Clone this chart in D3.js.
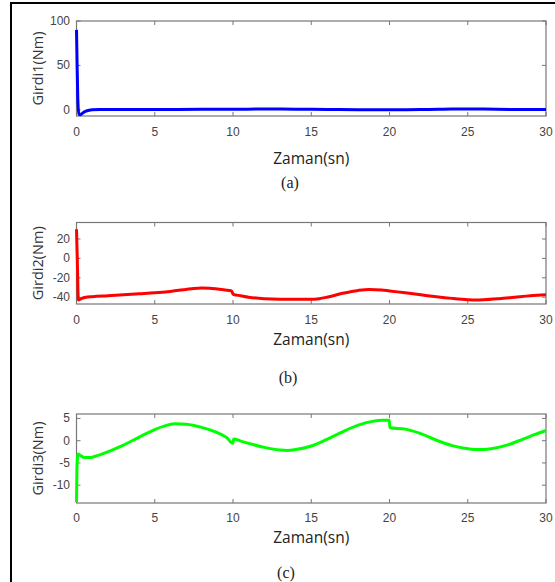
<!DOCTYPE html>
<html><head><meta charset="utf-8">
<script src="https://cdn.jsdelivr.net/npm/d3@7"></script>
<style>body{margin:0;background:#fff}svg{display:block}</style>
</head><body>
<script>
// ---- data ----
const xTicks = [0, 5, 10, 15, 20, 25, 30];
const captions = ["(a)", "(b)", "(c)"];
const yLabels = ["Girdi1(Nm)", "Girdi2(Nm)", "Girdi3(Nm)"];
const xLabel = "Zaman(sn)";

const t1 = [0, 0.03, 0.08, 0.15, 0.25, 0.4, 0.6, 0.8, 1.0, 1.5, 3, 5, 8, 10, 12, 14, 16, 18, 20, 22, 24, 25, 26, 28, 30];
const y1 = [90, 60, 15, -5, -5.5, -3.5, -1.5, -0.5, 0, 0.2, 0.2, 0.3, 0.5, 0.6, 0.8, 0.7, 0.3, 0.1, 0.1, 0.2, 0.8, 1.0, 0.8, 0.3, 0.2];
const yTicks1 = [0, 50, 100];

const t2 = [0, 0.05, 0.12, 0.3, 0.6, 1, 2, 3, 4, 5, 6, 7, 7.5, 8, 8.5, 9, 9.5, 9.9, 10.02, 10.5, 11, 12, 13, 14, 15, 15.5, 16, 17, 18, 18.7, 19.5, 20, 21, 22, 23, 24, 25, 25.5, 26, 27, 28, 29, 30];
const y2 = [30, 0, -43, -41.5, -40, -39.5, -38.5, -37.5, -36.5, -35.5, -34, -32, -31, -30.5, -30.7, -31.5, -32.5, -33.5, -37, -38.5, -40, -41.5, -42, -42, -42.2, -41.5, -40, -36, -33, -32, -32.5, -33.5, -35.5, -37.5, -39.5, -41.2, -42.5, -42.8, -42.6, -41.5, -40, -38.5, -37.5];
const yTicks2 = [-40, -20, 0, 20];

const t3 = [0, 0.03, 0.1, 0.25, 0.5, 0.8, 1.2, 2, 3, 4, 5, 5.8, 6.3, 7, 8, 9, 9.6, 9.98, 10.05, 10.5, 11, 12, 13, 13.5, 14, 15, 16, 17, 18, 19, 19.5, 19.98, 20.03, 21, 22, 23, 24, 25, 25.7, 26.5, 27.5, 28.5, 29.3, 30];
const y3 = [-13.8, -6, -3, -3.3, -3.8, -3.8, -3.5, -2.5, -1, 0.8, 2.5, 3.5, 3.8, 3.7, 3, 1.8, 0.7, -0.6, 0.4, -0.1, -0.6, -1.5, -2.1, -2.2, -2, -1.2, 0.3, 2, 3.5, 4.4, 4.6, 4.6, 2.9, 2.6, 1.6, 0.1, -1.1, -1.8, -2, -1.8, -1, 0.3, 1.4, 2.3];
const yTicks3 = [-10, -5, 0, 5];

const panels = [
  {t: t1, y: y1, ticks: yTicks1, domain: [-7, 100], top: 21, bottom: 116, color: "#0000ff", tickY: 132, labY: 158, capY: 182, capX: 290},
  {t: t2, y: y2, ticks: yTicks2, domain: [-47, 37], top: 222.5, bottom: 304, color: "#ff0000", tickY: 320, labY: 339, capY: 377, capX: 288},
  {t: t3, y: y3, ticks: yTicks3, domain: [-14, 6], top: 414, bottom: 503, color: "#00ff00", tickY: 518, labY: 537, capY: 572, capX: 286}
];

const W = 555, H = 582;
const svg = d3.select("body").append("svg").attr("width", W).attr("height", H);

// outer frame
svg.append("rect").attr("x", 11).attr("y", 3).attr("width", 600).attr("height", 650)
  .attr("fill", "none").attr("stroke", "#000").attr("stroke-width", 2);

const left = 76.5, right = 546;
const x = d3.scaleLinear().domain([0, 30]).range([left, right]);

panels.forEach((p, i) => {
  const y = d3.scaleLinear().domain(p.domain).range([p.bottom, p.top]);
  const g = svg.append("g");
  const tickLen = 4;
  // box
  g.append("rect").attr("x", left).attr("y", p.top).attr("width", right - left).attr("height", p.bottom - p.top)
    .attr("fill", "none").attr("stroke", "#777").attr("stroke-width", 1.2);
  // ticks bottom/top
  xTicks.forEach(v => {
    g.append("line").attr("x1", x(v)).attr("x2", x(v)).attr("y1", p.bottom).attr("y2", p.bottom - tickLen).attr("stroke", "#777");
    g.append("line").attr("x1", x(v)).attr("x2", x(v)).attr("y1", p.top).attr("y2", p.top + tickLen).attr("stroke", "#777");
    g.append("text").attr("x", x(v)).attr("y", p.tickY).attr("text-anchor", "middle").attr("dominant-baseline", "central")
      .attr("font-family", "Liberation Sans, Arial, sans-serif").attr("font-size", 12).attr("fill", "#444").text(v);
  });
  p.ticks.forEach(v => {
    g.append("line").attr("x1", left).attr("x2", left + tickLen).attr("y1", y(v)).attr("y2", y(v)).attr("stroke", "#777");
    g.append("line").attr("x1", right).attr("x2", right - tickLen).attr("y1", y(v)).attr("y2", y(v)).attr("stroke", "#777");
    g.append("text").attr("x", 70).attr("y", y(v)).attr("text-anchor", "end").attr("dominant-baseline", "central")
      .attr("font-family", "Liberation Sans, Arial, sans-serif").attr("font-size", 12).attr("fill", "#444").text(v);
  });
  // line (drawn over the box)
  const data = p.t.map((t, k) => [t, p.y[k]]);
  g.append("path").datum(data)
    .attr("d", d3.line().x(d => x(d[0])).y(d => y(d[1])).curve(d3.curveMonotoneX))
    .attr("fill", "none").attr("stroke", p.color).attr("stroke-width", 3).attr("stroke-linejoin", "round");
  // labels
  g.append("text").attr("x", (left + right) / 2).attr("y", p.labY).attr("text-anchor", "middle").attr("dominant-baseline", "central")
    .attr("font-family", "Open Sans, Noto Sans, sans-serif").attr("font-size", 15.5).attr("fill", "#222").text(xLabel);
  g.append("text").attr("transform", `translate(37,${(p.top + p.bottom) / 2}) rotate(-90)`).attr("text-anchor", "middle").attr("dominant-baseline", "central")
    .attr("font-family", "Open Sans, Noto Sans, sans-serif").attr("font-size", 14.5).attr("fill", "#333").text(yLabels[i]);
  g.append("text").attr("x", p.capX).attr("y", p.capY).attr("text-anchor", "middle").attr("dominant-baseline", "central")
    .attr("font-family", "Liberation Serif, Times New Roman, serif").attr("font-size", 16).attr("fill", "#222").text(captions[i]);
});
</script>
</body></html>
